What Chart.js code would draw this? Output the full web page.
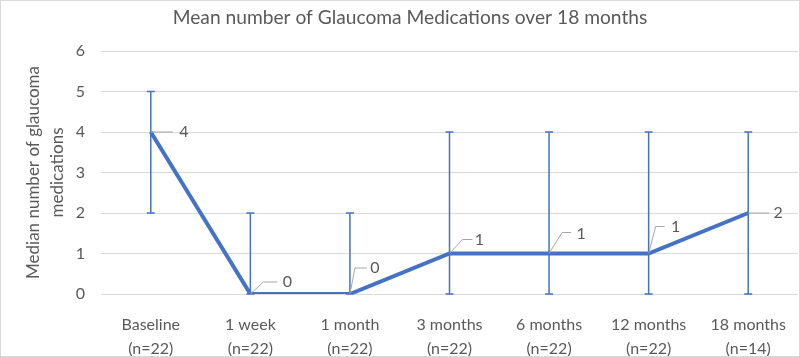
<!DOCTYPE html>
<html><head><meta charset="utf-8">
<script src="https://cdn.jsdelivr.net/npm/chart.js@4"></script>
<style>
html,body{margin:0;padding:0;background:#fff;}
#wrap{position:relative;width:800px;height:357px;box-sizing:border-box;border:1px solid #d9d9d9;}
canvas{display:block;}
</style></head>
<body><div id="wrap"><canvas id="c" width="798" height="355"></canvas></div>
<script>
const chartTitle = 'Mean number of Glaucoma Medications over 18 months';
const yAxisTitle = ['Median number of glaucoma', 'medications'];
const categories = [['Baseline','(n=22)'],['1 week','(n=22)'],['1 month','(n=22)'],['3 months','(n=22)'],['6 months','(n=22)'],['12 months','(n=22)'],['18 months','(n=14)']];
const medianValues = [4, 0, 0, 1, 1, 1, 2];
const errLow = [2, 0, 0, 0, 0, 0, 0];
const errHigh = [5, 2, 2, 4, 4, 4, 4];
const yTicks = [0, 1, 2, 3, 4, 5, 6];

const BLUE = '#4472C4';
const GREY = '#595959';
const FONT = "Lato, 'Open Sans', sans-serif";

// leader-line geometry for labels (style only): [elbow dx, elbow dy, line end dx, text dx, text dy]
const leaderStyle = [
  [22, 0, 22, 33, 0],
  [13, -12, 27, 37, -12],
  [5, -26, 17, 25, -26],
  [13, -14, 23, 30, -14],
  [13, -21, 22, 32, -20],
  [7, -27, 16, 27, -27],
  [0, 0, 21, 30, 0]
];

const overlay = {
  id: 'overlay',
  beforeDatasetsDraw(chart) {
    const ctx = chart.ctx, xs = chart.scales.x, ys = chart.scales.y;
    ctx.save();
    ctx.strokeStyle = BLUE;
    ctx.lineWidth = 1.5;
    medianValues.forEach((v, i) => {
      const x = xs.getPixelForValue(i);
      const yl = ys.getPixelForValue(errLow[i]);
      const yh = ys.getPixelForValue(errHigh[i]);
      ctx.beginPath();
      ctx.moveTo(x, yl); ctx.lineTo(x, yh);
      ctx.moveTo(x - 4, yh); ctx.lineTo(x + 4, yh);
      ctx.moveTo(x - 4, yl); ctx.lineTo(x + 4, yl);
      ctx.stroke();
    });
    ctx.restore();
  },
  afterDatasetsDraw(chart) {
    const ctx = chart.ctx, xs = chart.scales.x, ys = chart.scales.y;
    ctx.save();
    ctx.font = "16px " + FONT;
    ctx.textBaseline = 'middle';
    ctx.textAlign = 'center';
    medianValues.forEach((v, i) => {
      const x = xs.getPixelForValue(i);
      const y = ys.getPixelForValue(v);
      const s = leaderStyle[i];
      ctx.strokeStyle = '#a6a6a6';
      ctx.lineWidth = 1;
      ctx.beginPath();
      ctx.moveTo(x, y);
      ctx.lineTo(x + s[0], y + s[1]);
      ctx.lineTo(x + s[2], y + s[1]);
      ctx.stroke();
      ctx.fillStyle = GREY;
      ctx.fillText(String(v), x + s[3], y + s[4]);
    });
    ctx.restore();
  },
  afterDraw(chart) {
    const ctx = chart.ctx;
    ctx.save();
    ctx.font = "19.2px " + FONT;
    ctx.fillStyle = GREY;
    ctx.textAlign = 'center';
    ctx.textBaseline = 'middle';
    ctx.fillText(chartTitle, chart.width / 2 + 10, 17);
    ctx.restore();
  }
};

new Chart(document.getElementById('c'), {
  type: 'line',
  data: {
    labels: categories,
    datasets: [{
      data: medianValues,
      borderColor: BLUE,
      borderWidth: 4,
      pointRadius: 0,
      tension: 0,
      fill: false
    }]
  },
  options: {
    responsive: false,
    animation: false,
    layout: { padding: { left: 0, right: 1, top: 50, bottom: 0 } },
    plugins: {
      legend: { display: false },
      tooltip: { enabled: false },
      title: { display: false }
    },
    scales: {
      x: {
        offset: true,
        grid: { display: false },
        border: { display: false },
        ticks: { color: GREY, font: { family: FONT, size: 16, lineHeight: 1.5 }, padding: 11, maxRotation: 0, autoSkip: false },
        afterFit(s) { s.height = 62; }
      },
      y: {
        min: 0, max: 6,
        afterBuildTicks(s) { s.ticks = yTicks.map(v => ({ value: v })); },
        grid: { color: '#d9d9d9', drawTicks: false },
        border: { display: false },
        ticks: { color: GREY, font: { family: FONT, size: 16 }, padding: 16 },
        title: {
          display: true,
          text: yAxisTitle,
          color: GREY,
          font: { family: FONT, size: 17, weight: 'normal', lineHeight: 1.45 },
          padding: { top: 20, bottom: 0 }
        },
        afterFit(s) { s.width = 100; }
      }
    }
  },
  plugins: [overlay]
});
</script>
</body></html>
